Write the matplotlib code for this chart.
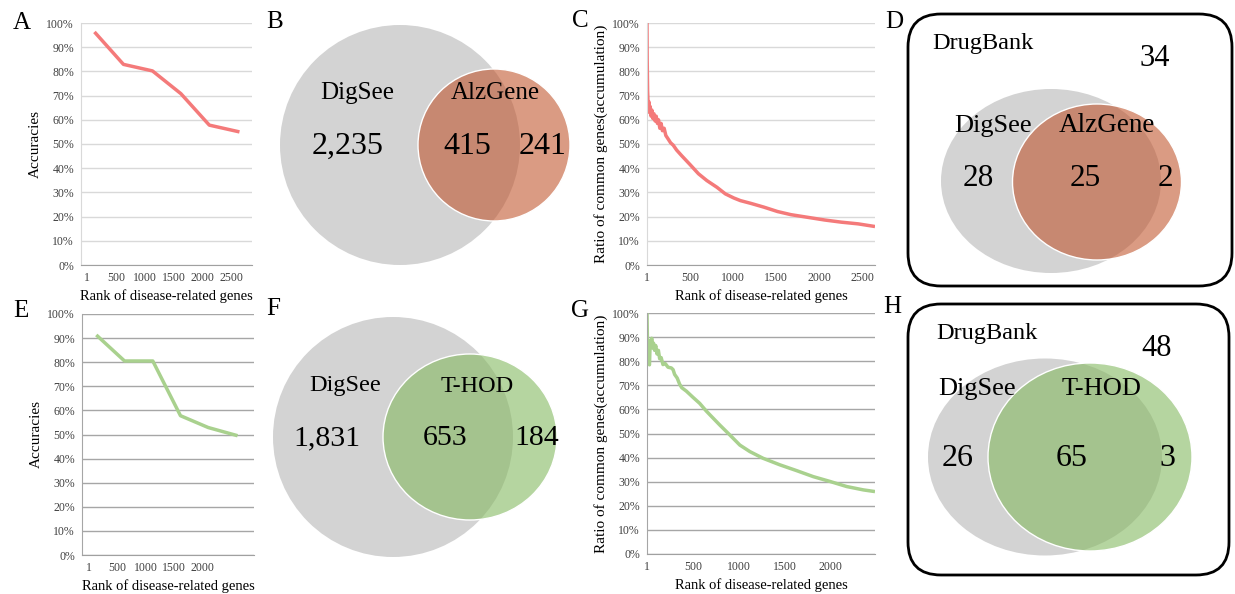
import matplotlib.pyplot as plt
import numpy as np
from matplotlib.patches import Circle, Ellipse, FancyBboxPatch
from matplotlib.ticker import PercentFormatter

plt.rcParams['font.family'] = ['Liberation Serif', 'DejaVu Serif']

# accuracy of top-ranked genes (panels A, E)
acc_rank = [130, 630, 1130, 1620, 2110, 2630]
acc_alz = [0.963, 0.829, 0.802, 0.708, 0.578, 0.550]
acc_thod = [0.913, 0.805, 0.805, 0.578, 0.529, 0.495]

# accumulated ratio of common genes (panels C, G)
c_rank = [1, 3, 8, 12, 16, 22, 30, 38, 48, 58, 70, 82, 95, 108, 122, 135, 150, 165,
          180, 200, 220, 248, 275, 306, 345, 403, 501, 599, 696, 814, 911, 1009,
          1087, 1204, 1360, 1517, 1673, 1868, 2064, 2259, 2454, 2650]
c_ratio = [1.00, 0.85, 0.72, 0.68, 0.64, 0.675, 0.63, 0.655, 0.615, 0.64, 0.605,
           0.625, 0.595, 0.615, 0.585, 0.60, 0.565, 0.585, 0.555, 0.565, 0.535, 0.52,
           0.505, 0.495, 0.475, 0.452, 0.415, 0.377, 0.349, 0.321, 0.294, 0.277,
           0.266, 0.255, 0.239, 0.221, 0.208, 0.197, 0.186, 0.177, 0.170, 0.159]
g_rank = [1, 5, 12, 20, 28, 36, 44, 52, 62, 72, 84, 96, 110, 125, 139, 155, 175, 200,
          230, 266, 285, 302, 330, 357, 380, 429, 460, 502, 575, 647, 700, 794, 903,
          1012, 1121, 1266, 1448, 1630, 1812, 1994, 2175, 2357, 2484]
g_ratio = [1.00, 0.90, 0.83, 0.79, 0.785, 0.885, 0.86, 0.895, 0.855, 0.875, 0.845,
           0.865, 0.83, 0.845, 0.81, 0.815, 0.786, 0.79, 0.775, 0.772, 0.765, 0.745,
           0.73, 0.704, 0.69, 0.676, 0.665, 0.65, 0.625, 0.593, 0.572, 0.535, 0.494,
           0.452, 0.425, 0.397, 0.37, 0.346, 0.321, 0.301, 0.28, 0.266, 0.259]

# venn counts: only DigSee, common, only other (+ rest of DrugBank)
alz_counts = [2235, 415, 241]
thod_counts = [1831, 653, 184]
drug_alz = [28, 25, 2, 34]
drug_thod = [26, 65, 3, 48]

RED = '#F47A7A'
GREEN = '#A9D18E'
GREY = '#D3D3D3'
ORANGE = '#C0532A'
DKGREEN = '#85B961'

W, H = 1235, 594
fig = plt.figure(figsize=(W / 100, H / 100), dpi=100)


def px_axes(l, t, r, b):
    return fig.add_axes([l / W, 1 - b / H, (r - l) / W, (b - t) / H])


def rank_panel(ax, x, y, color, grid, xlim, xticks, ylabel):
    ax.plot(x, y, color=color, lw=2.5, solid_joinstyle='round', solid_capstyle='butt')
    ax.set_xlim(*xlim)
    ax.set_ylim(0, 1)
    ax.set_yticks(np.arange(0, 1.01, 0.1))
    ax.yaxis.set_major_formatter(PercentFormatter(1, decimals=0))
    ax.set_xticks(xticks)
    ax.set_xticklabels([str(t) for t in xticks])
    ax.grid(axis='y', color=grid, lw=1)
    ax.set_axisbelow(True)
    for s in ['top', 'right']:
        ax.spines[s].set_visible(False)
    ax.spines['left'].set_color(grid)
    ax.spines['bottom'].set_color('#A0A0A0')
    ax.tick_params(length=0, labelsize=8.5, colors='#404040', pad=5)
    ax.set_xlabel('Rank of disease-related genes', fontsize=10.5, labelpad=4)
    ax.set_ylabel(ylabel, fontsize=11, labelpad=3)


axA = px_axes(81, 23, 252, 265)
rank_panel(axA, acc_rank, acc_alz, RED, '#D9D9D9', (-102, 2846),
           [1, 500, 1000, 1500, 2000, 2500], 'Accuracies')
axE = px_axes(82, 314, 254, 555)
rank_panel(axE, acc_rank, acc_thod, GREEN, '#A6A6A6', (-123, 2921),
           [1, 500, 1000, 1500, 2000], 'Accuracies')
axC = px_axes(647, 23, 875, 265)
rank_panel(axC, c_rank, c_ratio, RED, '#D9D9D9', (1, 2650),
           [1, 500, 1000, 1500, 2000, 2500], 'Ratio of common genes(accumulation)')
axG = px_axes(647, 313, 875, 554)
rank_panel(axG, g_rank, g_ratio, GREEN, '#A6A6A6', (1, 2484),
           [1, 500, 1000, 1500, 2000], 'Ratio of common genes(accumulation)')

# overlay in pixel coordinates for the venn diagrams and panel letters
ov = fig.add_axes([0, 0, 1, 1])
ov.set_xlim(0, W)
ov.set_ylim(H, 0)
ov.axis('off')
ov.patch.set_alpha(0)

for letter, (x, y) in zip('ABCDEFGH', [(22, 23), (275, 22), (580, 21), (894, 22),
                                       (21, 311), (273, 309), (580, 311), (892, 307)]):
    ov.text(x, y, letter, fontsize=18, ha='center', va='center')

# B
ov.add_patch(Circle((400, 145), 120, fc=GREY, ec='none'))
ov.add_patch(Circle((494, 145), 76, fc=ORANGE, alpha=0.58, ec='none'))
ov.add_patch(Circle((494, 145), 76, fc='none', ec='white', lw=1))
ov.text(357, 93, 'DigSee', fontsize=18, ha='center', va='center')
ov.text(495, 93, 'AlzGene', fontsize=18, ha='center', va='center')
for x, n in zip([348, 467, 543], alz_counts):
    ov.text(x, 146, f'{n:,}', fontsize=23, ha='center', va='center')

# F
ov.add_patch(Circle((393, 437), 120, fc=GREY, ec='none'))
ov.add_patch(Ellipse((470, 437), 174, 166, fc=DKGREEN, alpha=0.6, ec='none'))
ov.add_patch(Ellipse((470, 437), 174, 166, fc='none', ec='white', lw=1))
ov.text(345, 386, 'DigSee', fontsize=17.5, ha='center', va='center')
ov.text(477, 386, 'T-HOD', fontsize=17.5, ha='center', va='center')
for x, n in zip([327, 445, 537], thod_counts):
    ov.text(x, 438, f'{n:,}', fontsize=21.5, ha='center', va='center')

# D
ov.add_patch(FancyBboxPatch((908, 14), 324, 272, boxstyle='round,pad=0,rounding_size=33',
                            fc='none', ec='black', lw=2))
ov.add_patch(Ellipse((1051, 181), 220, 184, fc=GREY, ec='none'))
ov.add_patch(Ellipse((1097, 182), 169, 156, fc=ORANGE, alpha=0.58, ec='none'))
ov.add_patch(Ellipse((1097, 182), 169, 156, fc='none', ec='white', lw=1))
ov.text(983, 44, 'DrugBank', fontsize=17.5, ha='center', va='center')
ov.text(993, 126, 'DigSee', fontsize=19, ha='center', va='center')
ov.text(1107, 126, 'AlzGene', fontsize=19.5, ha='center', va='center')
for (x, y), n in zip([(978, 179), (1085, 179), (1165, 179), (1155, 59)], drug_alz):
    ov.text(x, y, str(n), fontsize=22.5 if y > 100 else 22, ha='center', va='center')

# H
ov.add_patch(FancyBboxPatch((908, 304), 321, 271, boxstyle='round,pad=0,rounding_size=33',
                            fc='none', ec='black', lw=2))
ov.add_patch(Ellipse((1045, 457), 234, 197, fc=GREY, ec='none'))
ov.add_patch(Ellipse((1090, 457), 204, 188, fc=DKGREEN, alpha=0.6, ec='none'))
ov.add_patch(Ellipse((1090, 457), 204, 188, fc='none', ec='white', lw=1))
ov.text(987, 333, 'DrugBank', fontsize=17.5, ha='center', va='center')
ov.text(977, 389, 'DigSee', fontsize=19, ha='center', va='center')
ov.text(1102, 389, 'T-HOD', fontsize=19, ha='center', va='center')
for (x, y), n in zip([(958, 458), (1072, 458), (1167, 458), (1157, 348)], drug_thod):
    ov.text(x, y, str(n), fontsize=23 if y > 400 else 22, ha='center', va='center')

fig.savefig('out.png', dpi=100)
